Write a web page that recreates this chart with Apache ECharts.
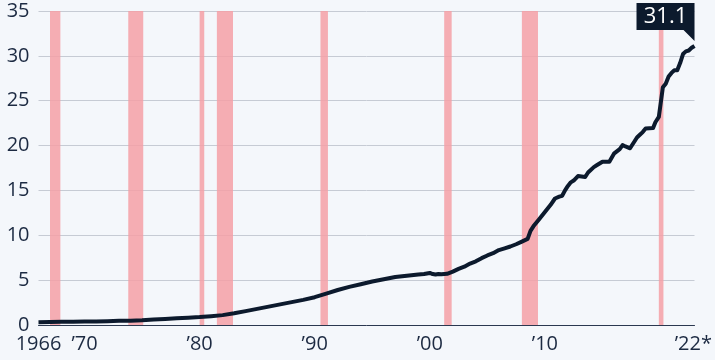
<!DOCTYPE html>
<html>
<head>
<meta charset="utf-8">
<script src="https://cdn.jsdelivr.net/npm/echarts@6/dist/echarts.min.js"></script>
<style>
html,body{margin:0;padding:0;background:#f4f7fb;}
#chart{width:715px;height:360px;}
</style>
</head>
<body>
<div id="chart"></div>
<script>
// Time position (decimal year) of each reading
const years = [
  1966.0,1967.0,1968.0,1969.0,1970.0,1971.0,1972.0,1973.0,1974.0,1975.0,
  1976.0,1977.0,1978.0,1979.0,1980.0,1981.0,1982.0,1983.0,1984.0,1985.0,
  1986.0,1987.0,1988.0,1989.0,1990.0,1991.0,1992.0,1993.0,1994.0,1995.0,
  1996.0,1997.0,1998.0,1999.0,1999.5,2000.0,2000.25,2000.5,2000.75,2001.0,
  2001.5,2002.0,2002.5,2003.0,2003.5,2004.0,2004.5,2005.0,2005.5,2006.0,
  2006.5,2007.0,2007.5,2008.0,2008.5,2008.75,2009.0,2009.5,2010.0,2010.5,
  2010.875,2011.25,2011.5,2011.75,2012.0,2012.25,2012.5,2012.875,2013.5,2013.75,
  2014.25,2014.5,2015.0,2015.6,2016.0,2016.5,2016.75,2017.0,2017.4,2017.75,
  2018.0,2018.25,2018.5,2018.75,2019.4,2019.6,2019.9,2020.0,2020.25,2020.5,
  2020.75,2021.0,2021.25,2021.5,2021.75,2022.0,2022.25,2022.5,2022.75,2023.0
];
// Debt, trillion US$
const debt = [
  0.30,0.33,0.36,0.37,0.38,0.40,0.43,0.46,0.48,0.52,
  0.60,0.68,0.76,0.82,0.88,0.98,1.10,1.30,1.55,1.80,
  2.05,2.30,2.55,2.80,3.10,3.50,3.90,4.25,4.55,4.85,
  5.10,5.35,5.50,5.62,5.68,5.80,5.68,5.62,5.68,5.65,
  5.70,5.95,6.25,6.50,6.85,7.10,7.45,7.75,8.00,8.35,
  8.55,8.75,9.00,9.30,9.60,10.50,11.00,11.80,12.60,13.40,
  14.10,14.30,14.40,15.00,15.50,15.90,16.10,16.60,16.50,17.00,
  17.60,17.80,18.20,18.20,19.10,19.60,20.05,19.90,19.70,20.40,
  20.90,21.20,21.50,21.90,21.95,22.60,23.20,23.30,26.50,26.90,
  27.70,28.10,28.40,28.40,29.20,30.20,30.50,30.60,30.90,31.10
];
// Shaded recession periods (decimal years)
const recessionStarts = [1967.0, 1973.8, 1980.0, 1981.5, 1990.5, 2001.25, 2008.0, 2019.9];
const recessionEnds   = [1967.9, 1975.1, 1980.4, 1982.9, 1991.15, 2001.9, 2009.4, 2020.3];
// X tick labels
const xLabelValues = [1966, 1970, 1980, 1990, 2000, 2010, 2022.9];
const xLabelTexts  = ['1966', '\u201970', '\u201980', '\u201990', '\u201900', '\u201910', '\u201922*'];
const lastLabel = '31.1';

const lineData = years.map((y, i) => [y, debt[i]]);
const areas = recessionStarts.map((s, i) => [{ xAxis: s }, { xAxis: recessionEnds[i] }]);

const chart = echarts.init(document.getElementById('chart'), null, { renderer: 'canvas' });
const textColor = '#1c2a42';
chart.setOption({
  backgroundColor: '#f4f7fb',
  animation: false,
  grid: { left: 38.5, right: 18, top: 11, bottom: 35, containLabel: false },
  xAxis: {
    type: 'value',
    min: 1966,
    max: 2023,
    splitLine: { show: false },
    axisTick: { show: false },
    axisLine: { show: true, lineStyle: { color: '#2b3850', width: 1 } },
    axisLabel: {
      customValues: xLabelValues,
      formatter: function (v) {
        for (let i = 0; i < xLabelValues.length; i++) {
          if (Math.abs(xLabelValues[i] - v) < 0.01) return xLabelTexts[i];
        }
        return '';
      },
      color: textColor,
      fontFamily: 'Open Sans',
      fontSize: 20,
      margin: 9,
      showMinLabel: true,
      showMaxLabel: true
    }
  },
  yAxis: {
    type: 'value',
    min: 0,
    max: 35,
    interval: 5,
    axisLine: { show: false },
    axisTick: { show: false },
    splitLine: { show: true, lineStyle: { color: '#c6cbd4', width: 1 } },
    axisLabel: {
      color: textColor,
      fontFamily: 'Open Sans',
      fontSize: 20,
      margin: 9
    }
  },
  series: [{
    type: 'line',
    data: lineData,
    showSymbol: false,
    symbol: 'none',
    lineStyle: { color: '#0c1a2d', width: 4, join: 'round' },
    z: 5,
    markArea: {
      silent: true,
      itemStyle: { color: 'rgba(245,160,166,0.85)' },
      data: areas
    },
    markPoint: {
      silent: true,
      symbol: 'path://M0,0 H58 V38 L47,27 H0 Z',
      symbolSize: [58, 38],
      symbolKeepAspect: false,
      symbolOffset: [-29, -24],
      itemStyle: { color: '#0c1a2d' },
      label: {
        show: true,
        position: 'inside',
        offset: [0, -5.5],
        formatter: lastLabel,
        color: '#ffffff',
        fontFamily: 'Open Sans',
        fontSize: 22,
        fontWeight: 'normal'
      },
      data: [{ coord: lineData[lineData.length - 1] }]
    }
  }]
});
</script>
</body>
</html>
